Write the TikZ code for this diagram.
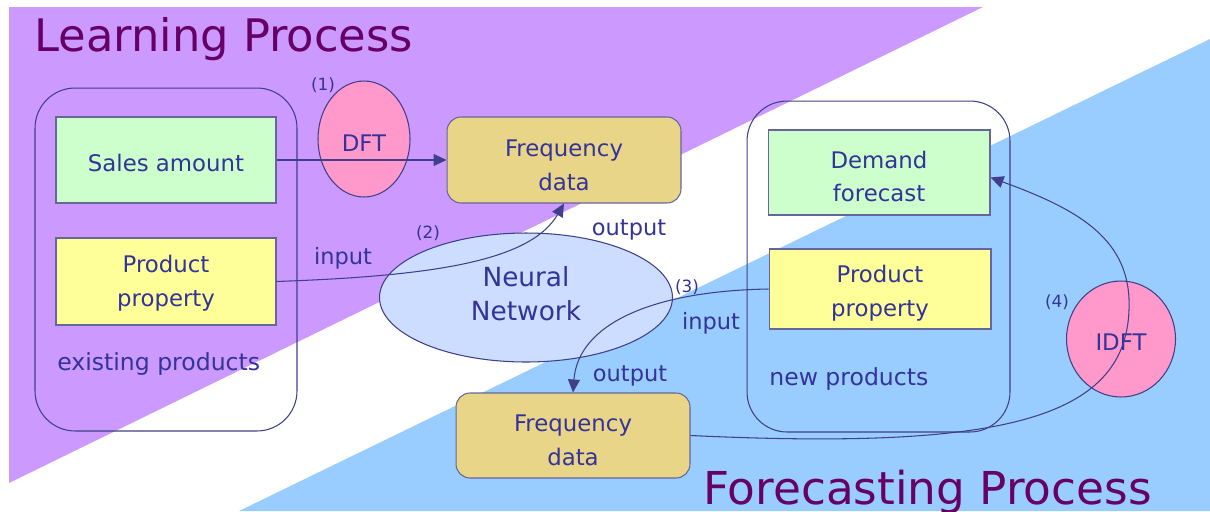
\documentclass[tikz,border=0pt]{standalone}
\usepackage{fontspec}
\setmainfont{DejaVu Sans}
\usetikzlibrary{arrows.meta,shapes.geometric}
\definecolor{bgpurple}{HTML}{CC99FF}
\definecolor{bgblue}{HTML}{99CCFF}
\definecolor{titlecol}{HTML}{660066}
\definecolor{txtcol}{HTML}{333399}
\definecolor{linecol}{HTML}{3F3F8A}
\definecolor{boxline}{HTML}{66669A}
\definecolor{lgreen}{HTML}{CCFFCC}
\definecolor{lyellow}{HTML}{FFFF99}
\definecolor{tan}{HTML}{E9D588}
\definecolor{pinkfill}{HTML}{FF99CC}
\definecolor{nnfill}{HTML}{CCDDFF}
\tikzset{
  boxtext/.style={font=\fontsize{13}{19.3}\selectfont, text=txtcol, align=center, inner sep=0pt},
  sqbox/.style={draw=boxline, line width=0.6pt, inner sep=0pt},
  freqbox/.style={draw=boxline, fill=tan, line width=0.6pt, rounded corners=0.28cm, inner sep=0pt, minimum width=4.68cm},
  groupbox/.style={draw=linecol, line width=0.6pt, rounded corners=0.8cm, inner sep=0pt},
  oval/.style={ellipse, draw=linecol, line width=0.6pt, inner sep=0pt},
  lbl/.style={font=\fontsize{12.8}{15}\selectfont, text=txtcol},
  grplbl/.style={font=\fontsize{13.4}{16}\selectfont, text=txtcol, anchor=west, inner sep=0pt},
  numlbl/.style={font=\fontsize{9.6}{12}\selectfont, text=txtcol},
  titletext/.style={text=titlecol, inner sep=0pt, anchor=base west},
  conn/.style={draw=linecol, line width=0.6pt},
  arr/.style={conn, -{Triangle[length=7.4pt,width=6.8pt]}},
}
\begin{document}
\begin{tikzpicture}[x=0.02cm,y=-0.02cm]
\useasboundingbox (0,0) rectangle (1210,511);
% backgrounds
\fill[bgpurple] (9,7) -- (983,7) -- (9,483) -- cycle;
\fill[bgblue] (239,511) -- (1210,39) -- (1210,511) -- cycle;
% titles
\node[titletext, font=\fontsize{25.5}{30}\selectfont] (t1) at (34,51) {Learning Process};
\node[titletext, font=\fontsize{25.8}{30}\selectfont] (t2) at (703,504) {Forecasting Process};
% containers
\node[groupbox, minimum width=5.24cm, minimum height=6.86cm] (g1) at (166,259.5) {};
\node[groupbox, minimum width=5.26cm, minimum height=6.62cm] (g2) at (878.5,266.5) {};
% boxes
\node[sqbox, fill=lgreen, minimum width=4.4cm, minimum height=1.72cm] (sa) at (166,160) {};
\node[sqbox, fill=lyellow, minimum width=4.4cm, minimum height=1.74cm] (pp1) at (166,281.5) {};
\node[freqbox, minimum height=1.72cm] (f1) at (564,160) {};
\node[freqbox, minimum height=1.7cm] (f2) at (573,435.5) {};
\node[sqbox, fill=lgreen, minimum width=4.44cm, minimum height=1.7cm] (df) at (879,172.5) {};
\node[sqbox, fill=lyellow, minimum width=4.44cm, minimum height=1.6cm] (pp2) at (880,289) {};
% ellipses
\node[oval, fill=pinkfill, minimum width=1.84cm, minimum height=2.32cm] (dft) at (364,139) {};
\node[oval, fill=pinkfill, minimum width=2.18cm, minimum height=2.32cm] (idft) at (1121,339) {};
\node[oval, fill=nnfill, minimum width=5.86cm, minimum height=2.58cm] (nn) at (526,297.5) {};
% texts of shapes
\node[boxtext] (sat) at (166,163) {Sales amount};
\node[boxtext] (pp1t) at (166,283.5) {Product\\property};
\node[boxtext] (f1t) at (564,165) {Frequency\\data};
\node[boxtext] (f2t) at (573,440.5) {Frequency\\data};
\node[boxtext] (dft2) at (879,176.5) {Demand\\forecast};
\node[boxtext] (pp2t) at (880,293) {Product\\property};
\node[boxtext] (dftt) at (364,143) {DFT};
\node[boxtext] (idftt) at (1121,342) {IDFT};
\node[boxtext, font=\fontsize{15}{19.3}\selectfont] (nnt) at (526,294) {Neural\\Network};
% labels
\node[grplbl] (ep) at (57,364) {existing products};
\node[grplbl] (np) at (769,379) {new products};
\node[lbl] (in1) at (343,258) {input};
\node[lbl] (out1) at (629,230) {output};
\node[lbl] (in2) at (711,323) {input};
\node[lbl] (out2) at (630,376) {output};
\node[numlbl] (n1) at (323,85) {(1)};
\node[numlbl] (n2) at (428,233) {(2)};
\node[numlbl] (n3) at (687,287) {(3)};
\node[numlbl] (n4) at (1057,302) {(4)};
% connectors
\draw[arr] (sa.east) -- (f1.west |- sa.east);
\draw[arr] (pp1.east) .. controls (430,276) and (530,262) .. (f1.south);
\draw[arr] (pp2.west) .. controls (650,291) and (578,325) .. (f2.north);
\coordinate (c4) at (1129,310);
\draw[arr] (f2.east) .. controls (1000,450) and (1125,420) .. (c4) .. controls (1132,240) and (1080,210) .. ([yshift=-0.1cm]df.east);
\end{tikzpicture}
\end{document}
